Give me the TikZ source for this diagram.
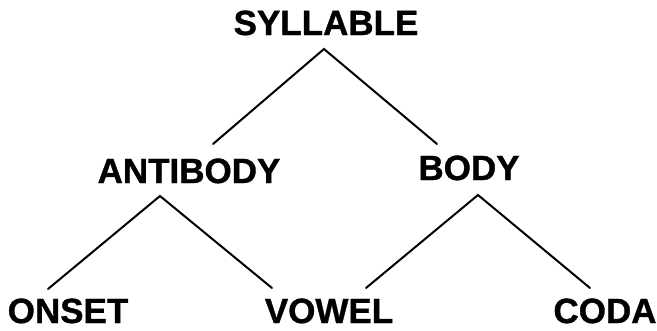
\documentclass[tikz,border=0pt]{standalone}
\usepackage{fontspec}
\setmainfont{Liberation Sans}
\newfontfamily\heavysans{Liberation Sans Bold}[FakeBold=1]
\begin{document}
\begin{tikzpicture}[x=1pt,y=-1pt,
  label/.style={font=\heavysans\fontsize{35}{40}\selectfont, inner sep=0pt, anchor=base},
  branch/.style={line width=2pt, line cap=round, line join=miter}]
  \useasboundingbox (0,0) rectangle (657,330);
  % labels of the tree
  \node[label] (syl)  at (326,35)  {SYLLABLE};
  \node[label] (anti) at (189,183) {ANTIBODY};
  \node[label] (body) at (469,180) {BODY};
  \node[label] (ons)  at (68,323)  {ONSET};
  \node[label] (vow)  at (329,323) {VOWEL};
  \node[label] (coda) at (605,323) {CODA};
  % branch points and branch ends
  \coordinate (sylTip)  at (324,49);
  \coordinate (sylL)    at (213,144);
  \coordinate (sylR)    at (437,144);
  \coordinate (antiTip) at (160,196);
  \coordinate (antiL)   at (48,289);
  \coordinate (antiR)   at (272,288);
  \coordinate (bodyTip) at (478,195);
  \coordinate (bodyL)   at (366,288);
  \coordinate (bodyR)   at (590,288);
  % branches
  \draw[branch] (sylL) -- (sylTip) -- (sylR);
  \draw[branch] (antiL) -- (antiTip) -- (antiR);
  \draw[branch] (bodyL) -- (bodyTip) -- (bodyR);
\end{tikzpicture}
\end{document}
